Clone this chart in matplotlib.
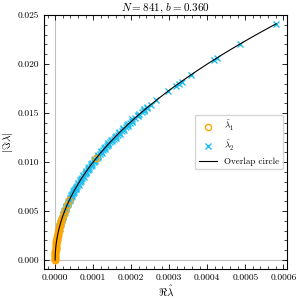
import numpy as np
import matplotlib
matplotlib.use("Agg")
import matplotlib.pyplot as plt
from matplotlib.ticker import AutoMinorLocator, MultipleLocator

plt.rcParams.update({
    "font.family": "cmr10",
    "mathtext.fontset": "cm",
    "axes.unicode_minus": False,
    "axes.formatter.use_mathtext": True,
    "font.size": 6.5,
})

# lambda_1 estimates (orange circles): imag x1e-3, real x1e-6
l1_im = [0.00, 0.05, 0.10, 0.18, 0.25, 0.32, 0.40, 0.48, 0.55, 0.63, 0.70, 0.78, 0.85,
         0.93, 1.00, 1.08, 1.15, 1.22, 1.30, 1.38, 1.45, 1.52, 1.60, 1.68, 1.75, 1.83,
         1.90, 1.98, 2.05, 2.13, 2.20, 2.28, 2.35, 2.43, 2.50, 2.60, 2.70, 2.80, 2.90,
         3.00, 3.10, 3.22, 3.35, 3.48, 3.60, 3.75, 3.90, 4.05, 4.25, 4.50, 4.80, 5.15,
         5.60, 6.10, 10.40]
l1_re = [0.0, 0.0, 0.1, 0.0, 0.1, 0.1, 0.2, 0.2, 0.3, 0.4, 0.5, 0.6, 0.7,
         0.9, 1.0, 1.2, 1.3, 1.5, 1.7, 1.9, 2.1, 2.3, 2.6, 2.8, 3.1, 3.3,
         3.6, 3.9, 4.2, 4.5, 4.8, 5.2, 5.5, 5.9, 6.3, 6.8, 7.3, 7.8, 8.4,
         9.0, 9.6, 10.4, 11.2, 12.1, 13.0, 14.1, 15.2, 16.4, 18.1, 20.3, 23.0, 26.5,
         31.4, 37.2, 108.0]

# lambda_2 estimates (blue crosses): imag x1e-3, real x1e-6
l2_im = [2.6, 2.9, 3.2, 3.3, 3.4, 3.5, 3.6, 3.7, 3.8, 3.9, 4.0, 4.1, 4.2, 4.3, 4.4, 4.5,
         4.6, 4.7, 4.8, 4.9, 5.0, 5.1, 5.2, 5.3, 5.4, 5.5, 5.6, 5.7, 5.8, 5.9,
         6.0, 6.1, 6.2, 6.3, 6.4, 6.5, 6.6, 6.7, 6.8, 6.9, 7.0, 7.1, 7.2, 7.3, 7.4, 7.5,
         7.6, 7.7, 7.8, 7.9, 8.0, 8.1, 8.2, 8.3, 8.4, 8.5, 8.6, 8.7, 8.8, 8.9, 9.0,
         9.1, 9.2, 9.3, 9.4, 9.5, 9.6, 9.7, 9.8, 9.9, 10.0, 10.1, 10.2, 10.3, 10.4, 10.5,
         10.6, 10.7, 10.8, 10.9, 11.0, 11.1, 11.2, 11.3, 11.4, 11.5, 11.6, 11.7, 11.8, 11.9,
         12.0, 12.1, 12.2, 12.3, 12.4, 12.5, 12.6, 12.7, 12.8, 12.9, 13.0, 13.1, 13.2, 13.3,
         13.4, 13.5, 13.6, 13.7, 13.8, 13.9, 14.0, 14.1, 14.2, 14.35, 14.5, 14.65,
         14.8, 14.95, 15.1, 15.2, 15.3, 15.4, 15.5, 15.6, 15.8, 16.3, 17.2, 17.8, 18.0,
         18.2, 18.9, 20.4, 20.6, 22.0, 24.1]
l2_re = [7.0, 8.1, 10.6, 11.9, 11.3, 11.0, 13.5, 14.8, 14.0, 14.2, 16.6, 18.0, 17.2, 17.6,
         19.8, 21.6, 20.6, 21.3, 23.5, 25.5, 24.4, 25.0, 27.6, 29.7, 28.5, 29.2,
         31.9, 34.2, 33.1, 33.7, 36.5, 39.0, 37.8, 38.5, 41.5, 44.2, 42.9, 43.6, 46.9, 49.7,
         48.2, 49.0, 52.6, 55.5, 54.0, 54.8, 58.4, 61.6, 60.1, 60.9, 64.9, 68.0, 66.5, 67.3,
         71.2, 74.8, 73.3, 74.0, 78.1, 81.9, 80.3, 81.1, 85.4, 89.3, 87.7, 88.5, 93.1, 97.0,
         95.3, 96.2, 101.0, 105.0, 103.3, 104.2, 109.2, 113.4, 111.6, 112.5, 117.6, 122.0,
         120.2, 121.2, 126.5, 131.0, 129.2, 130.1, 135.7, 140.3, 138.6, 139.4, 145.2, 150.0,
         148.1, 149.0, 155.0, 159.9, 157.9, 158.9, 164.8, 170.2, 168.3, 169.2, 175.3, 180.8,
         178.9, 179.7, 186.3, 191.7, 189.8, 190.6, 197.0, 203.0, 201.0, 203.0, 211.0, 218.7,
         218.0, 220.4, 229.0, 234.9, 233.0, 233.9, 241.0, 242.0, 251.0, 266.0, 296.0, 318.0,
         325.0, 333.0, 358.0, 417.0, 426.0, 485.0, 581.0]

# overlap circle parameters
circle_center = 0.5
circle_radius = 0.5
circle_im_max = 0.0241

fig = plt.figure(figsize=(3, 3), dpi=100)
ax = fig.add_axes([0.147, 0.103, 0.81, 0.847])

ax.axhline(0, color="#bfbfbf", lw=0.8, zorder=0)
ax.axvline(0, color="#bfbfbf", lw=0.8, zorder=0)

ax.plot(np.array(l1_re) * 1e-6, np.array(l1_im) * 1e-3, "o", ms=4.5, mfc="none",
        mec="#FFA500", mew=1.0, ls="none", label=r"$\hat{\lambda}_1$", zorder=3)
ax.plot(np.array(l2_re) * 1e-6, np.array(l2_im) * 1e-3, "x", ms=4.5,
        color="#1EBEF0", mew=1.0, ls="none", label=r"$\hat{\lambda}_2$", zorder=2)

theta_max = np.arcsin(circle_im_max / circle_radius)
theta = np.linspace(0, theta_max, 400)
cx = circle_center - circle_radius * np.cos(theta)
cy = circle_radius * np.sin(theta)
ax.plot(cx, cy, color="black", lw=0.8, label="Overlap circle", zorder=4)

ax.set_xlim(-0.000029, 0.00061)
ax.set_ylim(-0.00092, 0.025)
ax.xaxis.set_major_locator(MultipleLocator(0.0001))
ax.yaxis.set_major_locator(MultipleLocator(0.005))
ax.xaxis.set_major_formatter(plt.FormatStrFormatter("%.4f"))
ax.yaxis.set_major_formatter(plt.FormatStrFormatter("%.3f"))
ax.xaxis.set_minor_locator(AutoMinorLocator())
ax.yaxis.set_minor_locator(AutoMinorLocator())
ax.tick_params(which="both", direction="in", top=True, right=True)
ax.tick_params(which="major", length=3.5, width=0.6, labelsize=6.8)
ax.tick_params(which="minor", length=2, width=0.5)

ax.set_xlabel(r"$\Re\hat{\lambda}$", fontsize=8, labelpad=1)
ax.set_ylabel(r"$|\Im\hat{\lambda}|$", fontsize=8, labelpad=1)
ax.set_title(r"$N = 841$, $b = 0.360$", fontsize=8, pad=3)

leg = ax.legend(loc="center right", fontsize=6.5, frameon=True, fancybox=True,
                framealpha=0.8, edgecolor="#cccccc")

fig.savefig("out.png", dpi=100)
